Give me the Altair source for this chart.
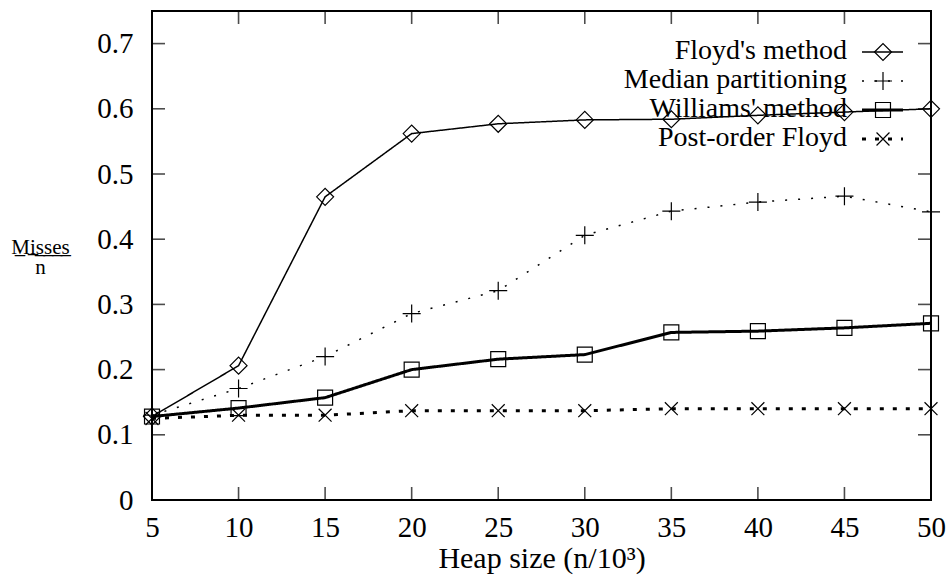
import altair as alt
import pandas as pd

# ---- data ----
heap_k = [5, 10, 15, 20, 25, 30, 35, 40, 45, 50]
series_names = ["Floyd's method", "Median partitioning", "Williams' method", "Post-order Floyd"]
floyd = [0.128, 0.206, 0.465, 0.562, 0.577, 0.583, 0.584, 0.590, 0.595, 0.600]
median = [0.130, 0.171, 0.220, 0.286, 0.321, 0.406, 0.443, 0.457, 0.466, 0.442]
williams = [0.128, 0.141, 0.157, 0.200, 0.216, 0.223, 0.257, 0.259, 0.264, 0.271]
postorder = [0.125, 0.130, 0.130, 0.137, 0.137, 0.137, 0.140, 0.140, 0.140, 0.140]
x_ticks = [5, 10, 15, 20, 25, 30, 35, 40, 45, 50]
y_ticks = [0, 0.1, 0.2, 0.3, 0.4, 0.5, 0.6, 0.7]

rows = []
for name, vals in zip(series_names, [floyd, median, williams, postorder]):
    for x, v in zip(heap_k, vals):
        rows.append({"n": x, "misses": v, "series": name})
df = pd.DataFrame(rows)
xt = pd.DataFrame({"n": x_ticks})
yt = pd.DataFrame({"misses": y_ticks})

# ---- styles ----
W, H = 779, 489
FONT = "Liberation Serif, DejaVu Serif, serif"
dash_range = [[1, 0], [2, 11], [1, 0], [4, 9]]
width_range = [1.5, 1.5, 3, 3]
shape_range = [
    "diamond",
    "M-1.06,0L1.06,0M0,-1.06L0,1.06",
    "M-0.88,-0.88L0.88,-0.88L0.88,0.88L-0.88,0.88Z",
    "M-0.76,-0.76L0.76,0.76M-0.76,0.76L0.76,-0.76",
]

xs = alt.Scale(domain=[5, 50], nice=False, zero=False)
ys = alt.Scale(domain=[0, 0.75], nice=False, zero=False)

x_axis = alt.Axis(
    orient="bottom", values=x_ticks, ticks=False, domain=False, grid=False,
    labelFontSize=29, labelPadding=13, labelFlush=False, labelColor="black",
    labelFont=FONT,
    title="Heap size (n/10³)", titleFontSize=30, titleFontWeight="normal",
    titlePadding=1, titleColor="black", titleFont=FONT)
y_axis = alt.Axis(
    orient="left", values=y_ticks, ticks=False, domain=False, grid=False,
    labelFontSize=29, labelPadding=19, labelColor="black", format="~g",
    labelFont=FONT,
    title=["M\u0332i\u0332s\u0332s\u0332e\u0332s\u0332", "n"], titleAngle=0,
    titleFontSize=21, titleFontWeight="normal", titleX=-112, titleY=242,
    titleAlign="center", titleBaseline="alphabetic", titleLineHeight=20,
    titleColor="black", titleFont=FONT)

X = alt.X("n:Q", scale=xs, axis=x_axis)
Y = alt.Y("misses:Q", scale=ys, axis=y_axis)

base = alt.Chart(df)

lines = base.mark_line(color="black", strokeCap="butt").encode(
    x=X, y=Y,
    strokeDash=alt.StrokeDash("series:N", scale=alt.Scale(domain=series_names, range=dash_range), legend=None),
    strokeWidth=alt.StrokeWidth("series:N", scale=alt.Scale(type="ordinal", domain=series_names, range=width_range), legend=None),
)

points = base.mark_point(color="black", filled=False, size=289, strokeWidth=1.2, opacity=1).encode(
    x=X, y=Y,
    shape=alt.Shape("series:N", scale=alt.Scale(domain=series_names, range=shape_range), legend=None),
)

tick_style = dict(size=13, thickness=1.6, color="black")
xt_bottom = alt.Chart(xt).mark_tick(orient="vertical", **tick_style).encode(x=X, y=alt.value(H - 6.5))
xt_top = alt.Chart(xt).mark_tick(orient="vertical", **tick_style).encode(x=X, y=alt.value(6.5))
yt_left = alt.Chart(yt).mark_tick(orient="horizontal", **tick_style).encode(y=Y, x=alt.value(6.5))
yt_right = alt.Chart(yt).mark_tick(orient="horizontal", **tick_style).encode(y=Y, x=alt.value(W - 6.5))

# ---- key (gnuplot style: label, then line sample with marker) ----
key_layers = []
for i, name in enumerate(series_names):
    yi = 41 + 29 * i
    c = alt.Chart(pd.DataFrame({"series": [name]}))
    key_layers.append(c.mark_text(align="right", baseline="alphabetic", dy=7, fontSize=28,
                                  font=FONT, color="black").encode(
        x=alt.value(695), y=alt.value(yi), text="series:N"))
    key_layers.append(c.mark_rule(color="black", strokeDash=dash_range[i], strokeWidth=width_range[i],
                                  strokeCap="butt").encode(
        x=alt.value(710), x2=alt.value(751), y=alt.value(yi)))
    key_layers.append(c.mark_point(shape=shape_range[i], size=289, filled=False, color="black",
                                   strokeWidth=1.2, opacity=1).encode(
        x=alt.value(731), y=alt.value(yi)))

chart = alt.layer(lines, points, xt_bottom, xt_top, yt_left, yt_right, *key_layers).properties(
    width=W, height=H,
    autosize=alt.AutoSizeParams(type="none"),
    padding={"left": 152, "top": 11, "right": 18, "bottom": 77},
    background="white",
).configure(font=FONT).configure_view(
    stroke="black", strokeWidth=2
)

chart.save("out.html", embed_options={"renderer": "svg", "actions": False})
